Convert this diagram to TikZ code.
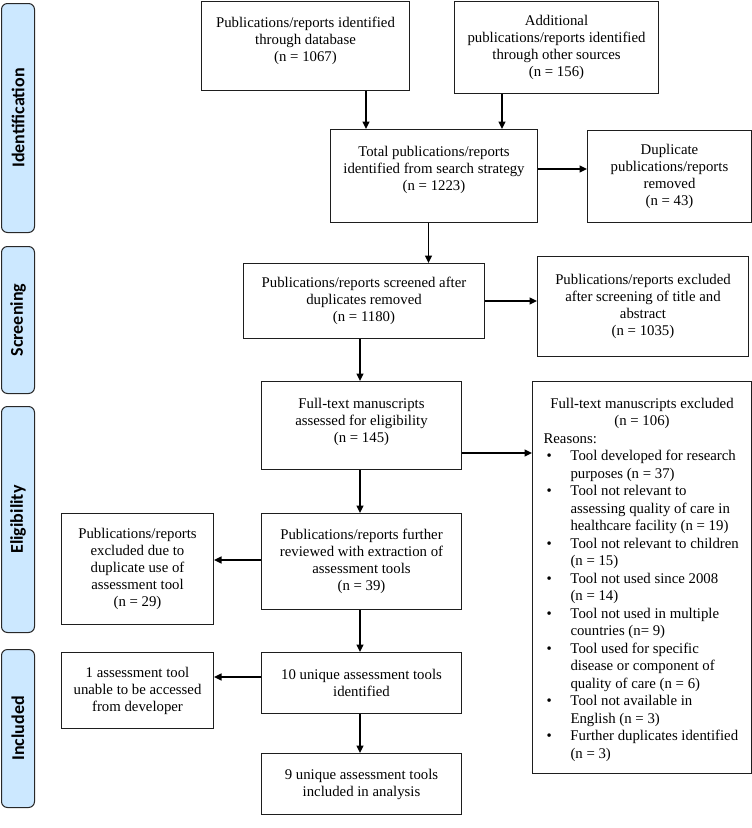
\documentclass[tikz,border=0pt]{standalone}
\usepackage{fontspec}
\setmainfont{Liberation Serif}
\newfontfamily\sidefont{Carlito}
\usetikzlibrary{arrows.meta,calc}
\definecolor{sideblue}{RGB}{204,232,255}
\definecolor{sideedge}{RGB}{40,40,40}
\definecolor{boxedge}{RGB}{30,30,30}
\begin{document}
\begin{tikzpicture}[x=1pt,y=-1pt,
  box/.style={draw=boxedge, line width=1pt, align=center, inner sep=0pt, anchor=north west,
    font=\fontsize{14.8}{17}\selectfont},
  listbox/.style={draw=boxedge, line width=1pt, inner sep=0pt, anchor=north west},
  side/.style={draw=sideedge, rounded corners=6pt, fill=sideblue, line width=1pt, anchor=north west},
  sidetext/.style={font=\sidefont\bfseries\fontsize{18}{20}\selectfont, rotate=90},
  arr/.style={-{Triangle[length=7.5pt,width=7pt]}, line width=1.5pt}]
\useasboundingbox (0,0) rectangle (752,828);

% side labels
\node[side, minimum width=33pt, minimum height=229pt] (s1) at (1,3) {};
\node[sidetext] (t1) at (s1.center) {Identification};
\node[side, minimum width=33pt, minimum height=147pt] (s2) at (1,246) {};
\node[sidetext] (t2) at (s2.center) {Screening};
\node[side, minimum width=33pt, minimum height=226pt] (s3) at (1,406) {};
\node[sidetext] (t3) at (s3.center) {Eligibility};
\node[side, minimum width=33pt, minimum height=158pt] (s4) at (1,649) {};
\node[sidetext] (t4) at (s4.center) {Included};

% boxes
\node[box, minimum width=208pt, minimum height=89pt] (b1) at (201,1)
  {Publications/reports identified\\through database\\(n = 1067)\\[-4pt]\mbox{}};
\node[box, minimum width=204pt, minimum height=92pt] (b2) at (454,1)
  {Additional\\publications/reports identified\\through other sources\\(n = 156)};
\node[box, minimum width=207pt, minimum height=93pt] (b3) at (330,129)
  {Total publications/reports\\identified from search strategy\\(n = 1223)\\[-2pt]\mbox{}};
\node[box, minimum width=164pt, minimum height=92pt] (b4) at (587,130)
  {Duplicate\\publications/reports\\removed\\(n = 43)};
\node[box, minimum width=241pt, minimum height=75pt] (b5) at (243,263)
  {Publications/reports screened after\\duplicates removed\\(n = 1180)};
\node[box, minimum width=211pt, minimum height=100pt] (b6) at (537,256)
  {Publications/reports excluded\\after screening of title and\\abstract\\(n = 1035)};
\node[box, minimum width=200pt, minimum height=88pt] (b7) at (261,381)
  {Full-text manuscripts\\assessed for eligibility\\(n = 145)\\[-7pt]\mbox{}};
\node[listbox, minimum width=219pt, minimum height=392pt] (b8) at (532,381)
  {\begin{minipage}{197pt}\fontsize{14.8}{17.5}\selectfont
   \vspace*{6pt}
   \centering Full-text manuscripts excluded\\(n = 106)\par
   \raggedright Reasons:\par
   \begin{tabular}[t]{@{\hspace{3pt}}p{24pt}@{}l@{}}
   \textbullet & Tool developed for research\\
     & purposes (n = 37)\\
   \textbullet & Tool not relevant to\\
     & assessing quality of care in\\
     & healthcare facility (n = 19)\\
   \textbullet & Tool not relevant to children\\
     & (n = 15)\\
   \textbullet & Tool not used since 2008\\
     & (n = 14)\\
   \textbullet & Tool not used in multiple\\
     & countries (n= 9)\\
   \textbullet & Tool used for specific\\
     & disease or component of\\
     & quality of care (n = 6)\\
   \textbullet & Tool not available in\\
     & English (n = 3)\\
   \textbullet & Further duplicates identified\\
     & (n = 3)
   \end{tabular}
   \end{minipage}};
\node[box, minimum width=200pt, minimum height=96pt] (b9) at (261,513)
  {Publications/reports further\\reviewed with extraction of\\assessment tools\\(n = 39)};
\node[box, minimum width=152pt, minimum height=111pt] (b10) at (61,513)
  {Publications/reports\\excluded due to\\duplicate use of\\assessment tool\\(n = 29)};
\node[box, minimum width=200pt, minimum height=61pt] (b11) at (261,652)
  {10 unique assessment tools\\identified};
\node[box, minimum width=152pt, minimum height=76pt] (b12) at (61,652)
  {1 assessment tool\\unable to be accessed\\from developer};
\node[box, minimum width=200pt, minimum height=61pt] (b13) at (261,753)
  {9 unique assessment tools\\included in analysis};

% guide coordinates
\coordinate (xa) at (366,0);
\coordinate (xb) at (502,0);
\coordinate (xc) at (428.5,0);
\coordinate (xd) at (360,0);
\coordinate (ya) at (0,169);
\coordinate (yb) at (0,301);
\coordinate (yc) at (0,453);
\coordinate (yd) at (0,560);
\coordinate (ye) at (0,677);

% connectors
\draw[arr] (xa |- b1.south) -- (xa |- b3.north);
\draw[arr] (xb |- b2.south) -- (xb |- b3.north);
\draw[arr] (b3.east |- ya) -- (b4.west |- ya);
\draw[arr] (xc |- b3.south) -- (xc |- b5.north);
\draw[arr] (b5.east |- yb) -- (b6.west |- yb);
\draw[arr] (xd |- b5.south) -- (xd |- b7.north);
\draw[arr] (b7.east |- yc) -- (b8.west |- yc);
\draw[arr] (xd |- b7.south) -- (xd |- b9.north);
\draw[arr] (b9.west |- yd) -- (b10.east |- yd);
\draw[arr] (xd |- b9.south) -- (xd |- b11.north);
\draw[arr] (b11.west |- ye) -- (b12.east |- ye);
\draw[arr] (xd |- b11.south) -- (xd |- b13.north);
\end{tikzpicture}
\end{document}
